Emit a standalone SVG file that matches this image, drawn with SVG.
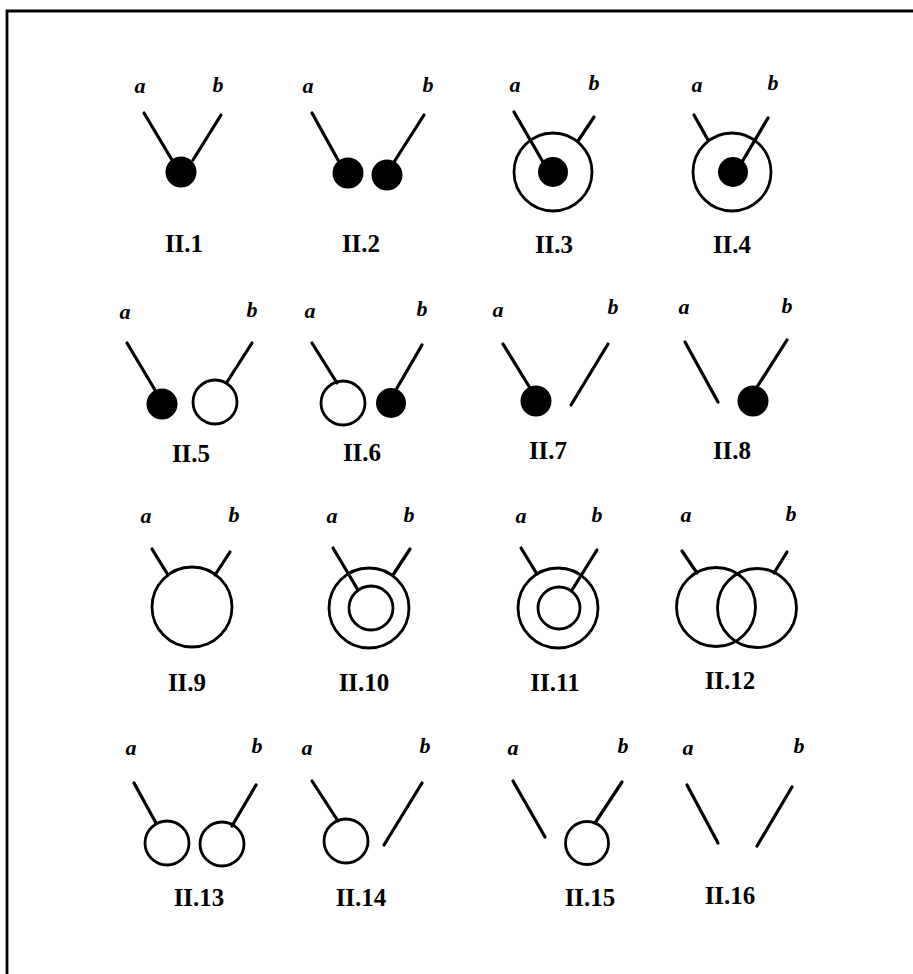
<svg xmlns="http://www.w3.org/2000/svg" width="913" height="974" viewBox="0 0 913 974">
<style>
.ln{stroke:#000;stroke-width:3.2;stroke-linecap:round;fill:none}
.oc{stroke:#000;stroke-width:2.8;fill:none}
.fc{fill:#000;stroke:none}
.lab{font-family:"Liberation Serif",serif;font-style:italic;font-weight:bold;font-size:22px;fill:#000;text-anchor:middle}
.cap{font-family:"Liberation Serif",serif;font-weight:bold;font-size:25px;fill:#000;text-anchor:middle}
</style>
<rect width="913" height="974" fill="#fff"/>
<g id="frame"><polyline points="7,974 7,11 913,11" fill="none" stroke="#000" stroke-width="2.8"/></g>

<g id="II-1"><text class="lab" x="140" y="93">a</text><text class="lab" x="218" y="92">b</text><circle class="fc" cx="181" cy="172" r="15.5"/><text class="cap" x="184" y="252">II.1</text></g>
<g id="II-2"><text class="lab" x="308" y="93">a</text><text class="lab" x="428" y="92">b</text><circle class="fc" cx="348" cy="173" r="15.5"/><circle class="fc" cx="387" cy="175" r="15.5"/><text class="cap" x="361" y="252">II.2</text></g>
<g id="II-3"><text class="lab" x="515" y="92">a</text><text class="lab" x="594" y="90">b</text><circle class="oc" cx="553" cy="172" r="39"/><circle class="fc" cx="553" cy="172" r="15"/><text class="cap" x="554" y="253">II.3</text></g>
<g id="II-4"><text class="lab" x="697" y="92">a</text><text class="lab" x="773" y="90">b</text><circle class="oc" cx="732" cy="172" r="39"/><circle class="fc" cx="733" cy="172" r="15"/><text class="cap" x="732" y="253">II.4</text></g>

<g id="II-5"><text class="lab" x="125" y="319">a</text><text class="lab" x="252" y="317">b</text><circle class="fc" cx="162" cy="404" r="15.5"/><circle class="oc" cx="215" cy="402" r="22"/><text class="cap" x="191" y="462">II.5</text></g>
<g id="II-6"><text class="lab" x="310" y="318">a</text><text class="lab" x="422" y="316">b</text><circle class="oc" cx="343" cy="403" r="22"/><circle class="fc" cx="391" cy="403" r="15"/><text class="cap" x="362" y="461">II.6</text></g>
<g id="II-7"><text class="lab" x="498" y="317">a</text><text class="lab" x="613" y="314">b</text><circle class="fc" cx="536" cy="401" r="15.5"/><text class="cap" x="548" y="459">II.7</text></g>
<g id="II-8"><text class="lab" x="684" y="314">a</text><text class="lab" x="787" y="313">b</text><circle class="fc" cx="753" cy="401" r="15.5"/><text class="cap" x="732" y="459">II.8</text></g>

<g id="II-9"><text class="lab" x="146" y="523">a</text><text class="lab" x="234" y="522">b</text><circle class="oc" cx="192" cy="607" r="40"/><text class="cap" x="187" y="691">II.9</text></g>
<g id="II-10"><text class="lab" x="332" y="523">a</text><text class="lab" x="409" y="522">b</text><circle class="oc" cx="369" cy="608" r="40"/><circle class="oc" cx="371" cy="608" r="22"/><text class="cap" x="364" y="691">II.10</text></g>
<g id="II-11"><text class="lab" x="521" y="523">a</text><text class="lab" x="597" y="522">b</text><circle class="oc" cx="558" cy="608" r="40"/><circle class="oc" cx="559" cy="608" r="21"/><text class="cap" x="555" y="691">II.11</text></g>
<g id="II-12"><text class="lab" x="686" y="522">a</text><text class="lab" x="791" y="521">b</text><circle class="oc" cx="716" cy="607" r="39.5"/><circle class="oc" cx="757" cy="608" r="39.5"/><text class="cap" x="730" y="689">II.12</text></g>

<g id="II-13"><text class="lab" x="131" y="755">a</text><text class="lab" x="257" y="753">b</text><circle class="oc" cx="167" cy="843" r="22"/><circle class="oc" cx="222" cy="844" r="22"/><text class="cap" x="199" y="906">II.13</text></g>
<g id="II-14"><text class="lab" x="307" y="755">a</text><text class="lab" x="425" y="753">b</text><circle class="oc" cx="346" cy="841" r="22"/><text class="cap" x="361" y="906">II.14</text></g>
<g id="II-15"><text class="lab" x="513" y="755">a</text><text class="lab" x="623" y="753">b</text><circle class="oc" cx="587" cy="843" r="21.5"/><text class="cap" x="590" y="906">II.15</text></g>
<g id="II-16"><text class="lab" x="688" y="755">a</text><text class="lab" x="799" y="753">b</text><text class="cap" x="730" y="904">II.16</text></g>

<g id="connectors">
<line class="ln" x1="144" y1="113" x2="172" y2="160"/><line class="ln" x1="221" y1="115" x2="193" y2="160"/>
<line class="ln" x1="312" y1="113" x2="338" y2="160"/><line class="ln" x1="424" y1="115" x2="394" y2="162"/>
<line class="ln" x1="514" y1="112" x2="543" y2="162"/><line class="ln" x1="594" y1="117" x2="578" y2="141"/>
<line class="ln" x1="694" y1="115" x2="708" y2="140"/><line class="ln" x1="768" y1="118" x2="742" y2="162"/>
<line class="ln" x1="127" y1="343" x2="155" y2="390"/><line class="ln" x1="252" y1="343" x2="227" y2="382"/>
<line class="ln" x1="312" y1="343" x2="337" y2="383"/><line class="ln" x1="422" y1="345" x2="397" y2="388"/>
<line class="ln" x1="503" y1="344" x2="530" y2="388"/><line class="ln" x1="608" y1="344" x2="571" y2="405"/>
<line class="ln" x1="685" y1="342" x2="718" y2="402"/><line class="ln" x1="787" y1="340" x2="757" y2="387"/>
<line class="ln" x1="152" y1="549" x2="168" y2="575"/><line class="ln" x1="230" y1="552" x2="215" y2="575"/>
<line class="ln" x1="333" y1="548" x2="358" y2="590"/><line class="ln" x1="410" y1="549" x2="393" y2="575"/>
<line class="ln" x1="521" y1="548" x2="537" y2="574"/><line class="ln" x1="597" y1="550" x2="572" y2="590"/>
<line class="ln" x1="682" y1="551" x2="697" y2="573"/><line class="ln" x1="787" y1="552" x2="774" y2="573"/>
<line class="ln" x1="134" y1="783" x2="156" y2="823"/><line class="ln" x1="256" y1="785" x2="232" y2="826"/>
<line class="ln" x1="312" y1="781" x2="338" y2="821"/><line class="ln" x1="422" y1="783" x2="384" y2="845"/>
<line class="ln" x1="513" y1="781" x2="545" y2="837"/><line class="ln" x1="622" y1="782" x2="595" y2="823"/>
<line class="ln" x1="687" y1="785" x2="718" y2="843"/><line class="ln" x1="792" y1="787" x2="757" y2="846"/>
</g>
</svg>
